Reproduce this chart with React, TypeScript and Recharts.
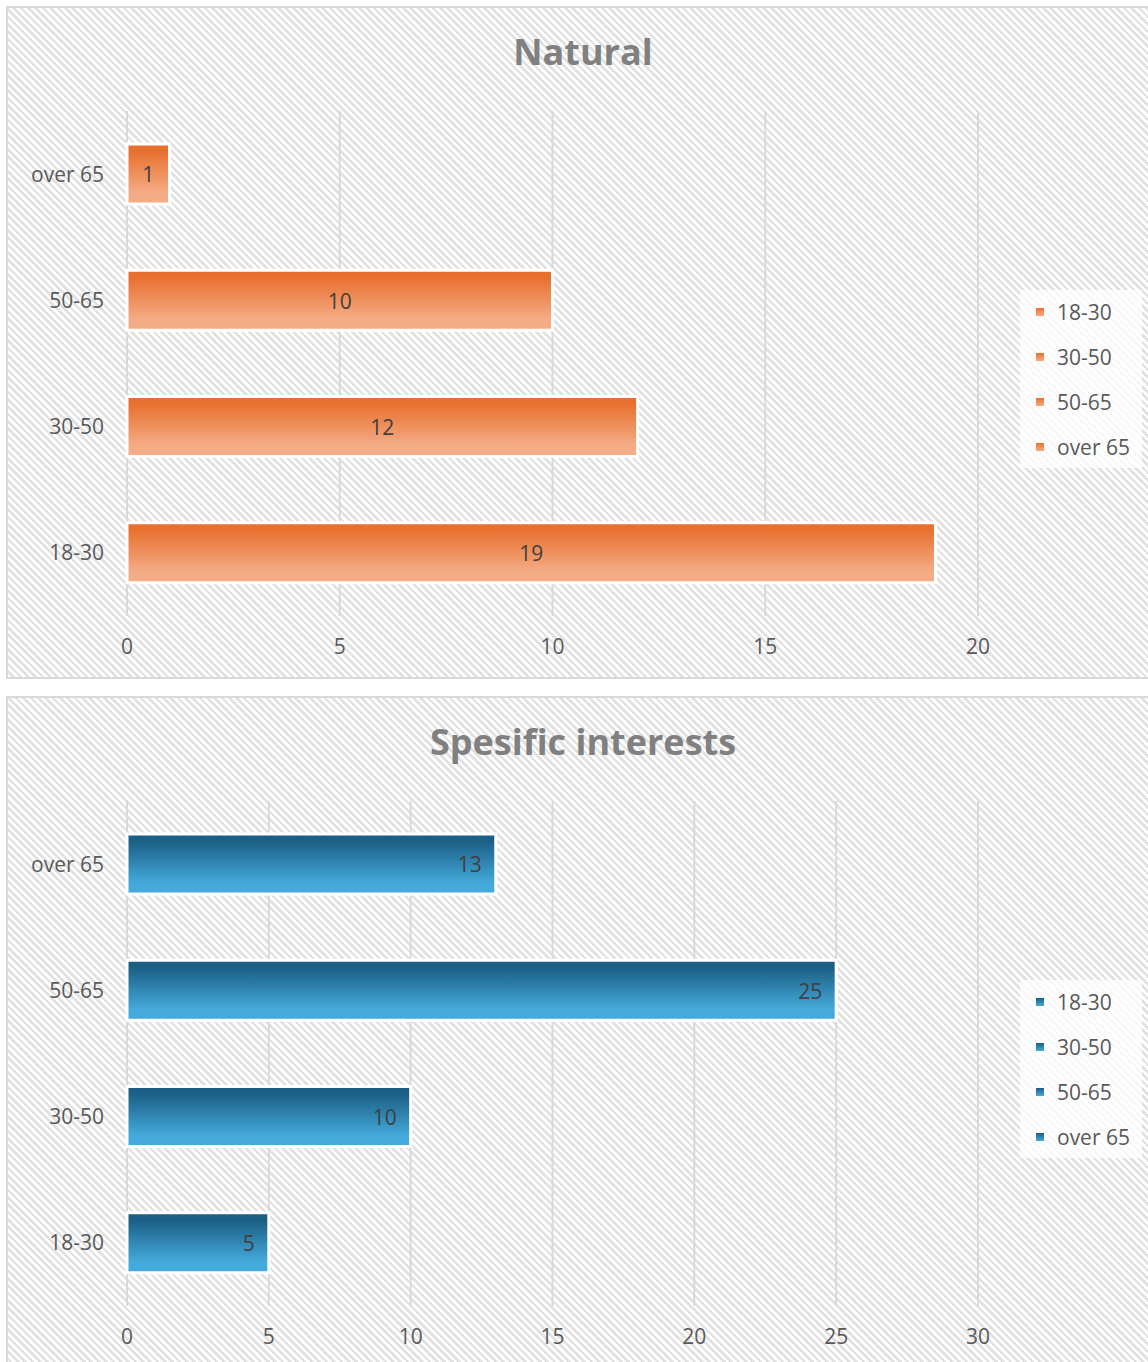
import React from 'react'
import { BarChart, Bar, XAxis, YAxis, CartesianGrid, LabelList } from 'recharts'

const categories = ['18-30', '30-50', '50-65', 'over 65']
const naturalValues = [19, 12, 10, 1]
const interestValues = [5, 10, 25, 13]
const naturalTicks = [0, 5, 10, 15, 20]
const interestTicks = [0, 5, 10, 15, 20, 25, 30]

const FONT = '"Open Sans", "Liberation Sans", sans-serif'
const HATCH =
  'repeating-linear-gradient(45deg, #ffffff 0px, #ffffff 2.6px, #e2e2e2 2.6px, #e2e2e2 5.2px)'

interface ChartPanelProps {
  id: string
  title: string
  values: number[]
  ticks: number[]
  top: number
  panelHeight: number
  dark: string
  light: string
  labelPosition: 'center' | 'insideRight'
}

function ChartPanel({
  id,
  title,
  values,
  ticks,
  top,
  panelHeight,
  dark,
  light,
  labelPosition,
}: ChartPanelProps) {
  const data = categories.map((name, i) => ({ name, value: values[i] }))
  const max = ticks[ticks.length - 1]

  return (
    <>
      {/* panel background */}
      <div
        style={{
          position: 'absolute',
          left: 6,
          top: top + 6,
          width: 1170,
          height: panelHeight,
          boxSizing: 'border-box',
          border: '2px solid #d9d9d9',
          backgroundColor: '#fff',
          backgroundImage: HATCH,
        }}
      />
      {/* title */}
      <div
        style={{
          position: 'absolute',
          left: 0,
          top: top + 28,
          width: 1166,
          textAlign: 'center',
          fontFamily: FONT,
          fontWeight: 700,
          fontSize: 36,
          lineHeight: '48px',
          color: '#808080',
        }}
      >
        {title}
      </div>
      <div style={{ position: 'absolute', left: 0, top }}>
        <BarChart
          width={1148}
          height={680}
          data={data}
          layout="vertical"
          margin={{ top: 111, right: 170, bottom: 24, left: 27 }}
        >
          <defs>
            <linearGradient id={`${id}-grad`} x1="0" y1="0" x2="0" y2="1">
              <stop offset="0" stopColor={dark} />
              <stop offset="0.12" stopColor={dark} />
              <stop offset="0.82" stopColor={light} />
              <stop offset="1" stopColor={light} />
            </linearGradient>
          </defs>
          <CartesianGrid horizontal={false} stroke="#d9d9d9" strokeWidth={2} />
          <XAxis
            type="number"
            domain={[0, max]}
            ticks={ticks}
            axisLine={false}
            tickLine={false}
            tickSize={0}
            tickMargin={23}
            height={40}
            tick={{ fill: '#595959', fontSize: 21, fontFamily: FONT }}
          />
          <YAxis
            type="category"
            dataKey="name"
            reversed
            width={100}
            axisLine={false}
            tickLine={false}
            tickSize={0}
            tickMargin={23}
            tick={{ fill: '#595959', fontSize: 21, fontFamily: FONT }}
          />
          <Bar
            dataKey="value"
            barSize={60}
            fill={`url(#${id}-grad)`}
            stroke="#ffffff"
            strokeWidth={3}
            isAnimationActive={false}
          >
            <LabelList
              dataKey="value"
              position={labelPosition}
              offset={14}
              fill="#404040"
              fontSize={21}
              fontFamily={FONT}
              dy={1}
            />
          </Bar>
        </BarChart>
      </div>
      {/* legend */}
      <div
        style={{
          position: 'absolute',
          left: 1020,
          top: top + 290,
          width: 122,
          height: 178,
          backgroundColor: 'rgba(255,255,255,0.75)',
          fontFamily: FONT,
          fontSize: 21,
          color: '#595959',
        }}
      >
        <ul style={{ listStyle: 'none', margin: 0, padding: 0 }}>
          {categories.map((name, i) => (
            <li
              key={name}
              style={{
                position: 'absolute',
                left: 0,
                top: 4 + i * 45,
                height: 36,
                display: 'flex',
                alignItems: 'center',
              }}
            >
              <span
                style={{
                  display: 'inline-block',
                  width: 8,
                  height: 8,
                  marginLeft: 16,
                  marginRight: 13,
                  background: `linear-gradient(${dark}, ${light})`,
                }}
              />
              <span>{name}</span>
            </li>
          ))}
        </ul>
      </div>
    </>
  )
}

export default function App() {
  return (
    <div
      style={{
        position: 'absolute',
        left: 0,
        top: 0,
        width: 1148,
        height: 1362,
        overflow: 'hidden',
        background: '#fff',
      }}
    >
      <ChartPanel
        id="natural"
        title="Natural"
        values={naturalValues}
        ticks={naturalTicks}
        top={0}
        panelHeight={673}
        dark="#e8702f"
        light="#f4ac86"
        labelPosition="center"
      />
      <ChartPanel
        id="interests"
        title="Spesific interests"
        values={interestValues}
        ticks={interestTicks}
        top={690}
        panelHeight={700}
        dark="#1b5f84"
        light="#44aadb"
        labelPosition="insideRight"
      />
    </div>
  )
}
